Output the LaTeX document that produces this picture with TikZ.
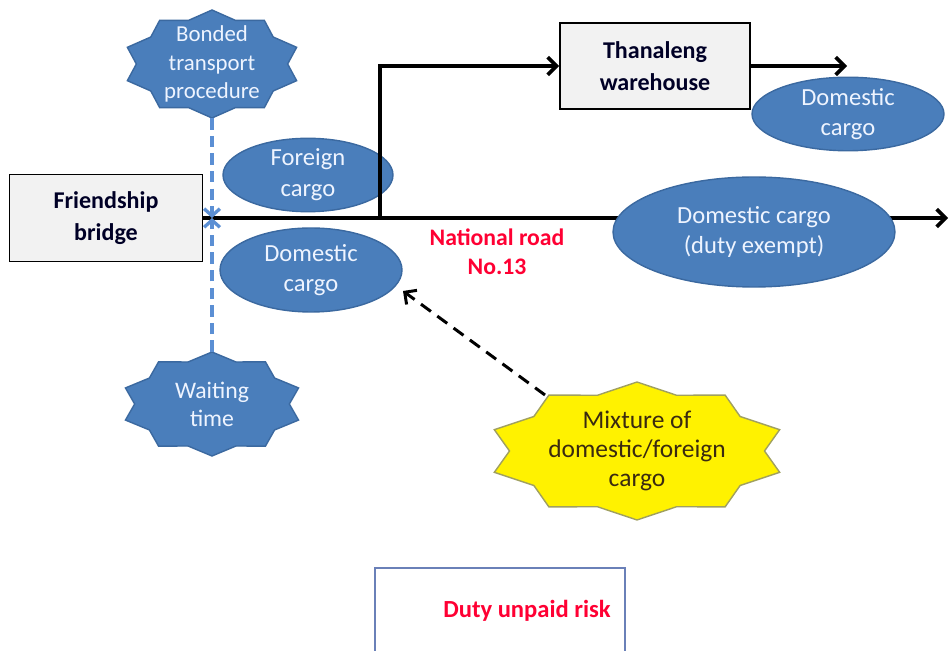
\documentclass[tikz,border=0pt]{standalone}
\usepackage{fontspec}
\setmainfont{Carlito}
\usetikzlibrary{shapes.geometric,arrows.meta}

\definecolor{cargoblue}{HTML}{4A7EBB}
\definecolor{cargoedge}{HTML}{3B69A0}
\definecolor{cargotext}{HTML}{EEF4FF}
\definecolor{dashblue}{HTML}{5B8FD4}
\definecolor{boxgray}{HTML}{F2F2F2}
\definecolor{roadred}{HTML}{FF0033}
\definecolor{staredge}{HTML}{A0A060}
\definecolor{mixtext}{HTML}{3A2A10}
\definecolor{riskedge}{HTML}{6A80B8}

% ten-pointed star: centre x, centre y, outer radii rx, ry, style
\newcommand\tenstar[5]{%
  \filldraw[#5] plot[samples at={0,...,19}, variable=\k]
    ({#1+#3*(1-0.15*mod(\k,2))*cos(90+18*\k)},
     {#2+#4*(1-0.15*mod(\k,2))*sin(90+18*\k)}) -- cycle;}

\begin{document}
\begin{tikzpicture}[x=0.02cm,y=-0.02cm,
  cargo/.style={ellipse, fill=cargoblue, draw=cargoedge, line width=0.8pt,
    text=cargotext, align=center, inner sep=0pt,
    font=\fontsize{14}{17.5}\selectfont},
  placebox/.style={rectangle, fill=boxgray, draw=black, line width=1.1pt,
    align=center, inner sep=0pt, text=black!85!blue,
    font=\fontsize{13.7}{18}\selectfont\bfseries},
  burst/.style={ellipse, inner sep=0pt, align=center},
  bluestar/.style={fill=cargoblue, draw=cargoedge, line width=0.8pt},
  yellowstar/.style={fill=yellow, draw=staredge, line width=0.8pt},
  roadline/.style={draw=black, line width=2.1pt,
    -{Straight Barb[length=5pt,width=10pt]}},
  bluedash/.style={dashblue, line width=1.9pt, dash pattern=on 6.5pt off 3.5pt,
    -{Straight Barb[length=4pt,width=9pt]}},
  blackdash/.style={black, line width=1.7pt, dash pattern=on 7pt off 4.5pt,
    -{Straight Barb[length=5pt,width=10pt]}},
  redlabel/.style={text=roadred, align=center,
    font=\fontsize{13.5}{16.5}\selectfont\bfseries}
]
\useasboundingbox (0,0) rectangle (950,651);
\clip (0,0) rectangle (950,651);

% places
\node[placebox, minimum width=3.86cm, minimum height=1.74cm] (bridge)
  at (106,218) {Friendship\\bridge};
\node[placebox, minimum width=3.8cm, minimum height=1.72cm] (thana)
  at (655,66) {Thanaleng\\warehouse};

% cargo on the branch to the warehouse
\node[cargo, minimum width=3.4cm, minimum height=1.32cm] (foreign)
  at (308,175) {Foreign\\cargo};

% national road and the branch
\coordinate (fork) at (380,218);
\coordinate (roadend) at (948,218);
\coordinate (thanaout) at (847,66);
\draw[roadline] (bridge.east) -- (roadend);
\draw[roadline] (fork) |- (thana.west);
\draw[roadline] (thana.east) -- (thana.east -| thanaout);

% remaining cargo ellipses
\node[cargo, minimum width=3.64cm, minimum height=1.68cm] (dom1)
  at (311,270) {Domestic\\cargo};
\node[cargo, minimum width=3.84cm, minimum height=1.44cm] (domtop)
  at (848,114) {Domestic\\cargo};
\node[cargo, minimum width=5.64cm, minimum height=2.2cm] (exempt)
  at (754,232) {Domestic cargo\\(duty exempt)};

\node[redlabel] (road) at (497,252) {National road\\No.13};

% starbursts
\tenstar{212}{64}{89}{54}{bluestar}
\node[burst, minimum width=3.56cm, minimum height=2.16cm, text=cargotext,
  font=\fontsize{13}{16}\selectfont] (bonded) at (212,64)
  {Bonded\\transport\\procedure};
\tenstar{212}{404}{91}{52}{bluestar}
\node[burst, minimum width=3.64cm, minimum height=2.08cm, text=cargotext,
  font=\fontsize{13.5}{16}\selectfont] (waiting) at (212,404)
  {Waiting\\time};
\tenstar{637}{451}{150}{69}{yellowstar}
\node[burst, minimum width=6cm, minimum height=2.76cm, text=mixtext,
  font=\fontsize{14.5}{16.5}\selectfont] (mix) at (637,451)
  {Mixture of\\domestic/foreign\\cargo};

% delays on the bridge crossing
\coordinate (cross) at (212,218);
\draw[bluedash] (bonded.south) -- (cross);
\draw[bluedash] (waiting.north) -- (cross);

% mixed loads posing as domestic cargo
\coordinate (mixstart) at (545,395);
\coordinate (mixtarget) at (403,291);
\draw[blackdash] (mixstart) -- (mixtarget);

% risk legend
\node[draw=riskedge, line width=0.8pt, minimum width=5cm, minimum height=1.84cm]
  (riskbox) at (500,614) {};
\node[text=roadred, font=\fontsize{14}{17}\selectfont\bfseries] (risk)
  at (527,611) {Duty unpaid risk};
\end{tikzpicture}
\end{document}
